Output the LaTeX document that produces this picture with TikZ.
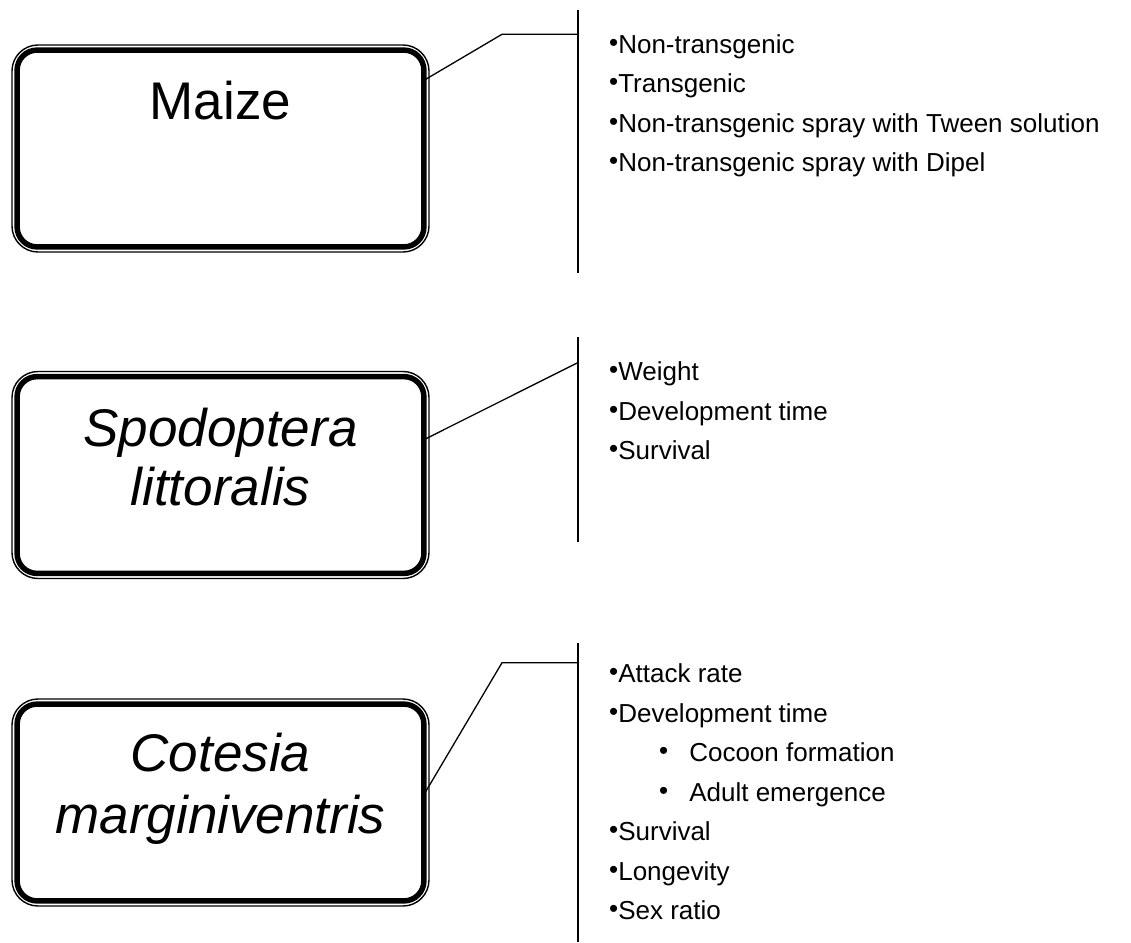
\documentclass[tikz,border=0pt]{standalone}
\usepackage{fontspec}
\setmainfont{Liberation Sans}
\newcommand\mybul{\raisebox{2pt}{•}}
\begin{document}
\begin{tikzpicture}[x=1pt,y=-1pt,
  boxo/.style={draw,line width=1.4pt,rounded corners=26pt,minimum width=417pt,minimum height=207pt,inner sep=0pt},
  boxi/.style={line width=5.5pt,rounded corners=20pt},
  big/.style={font=\fontsize{53}{60}\selectfont,inner sep=0pt,anchor=base},
  bigi/.style={inner sep=0pt,anchor=base,font=\fontsize{53}{60}\selectfont\itshape},
  item/.style={font=\fontsize{26}{30}\selectfont,inner sep=0pt,anchor=base west},
  vline/.style={line width=1.8pt},
  conn/.style={line width=1.3pt}]
\useasboundingbox (0,0) rectangle (1131,942);

% boxes
\node[boxo] (maize) at (220.5,148.5) {};
\draw[boxi] ([xshift=5.8pt,yshift=-5.8pt]maize.north west) rectangle ([xshift=-5.8pt,yshift=5.8pt]maize.south east);
\node[boxo] (spodo) at (220.5,475) {};
\draw[boxi] ([xshift=5.8pt,yshift=-5.8pt]spodo.north west) rectangle ([xshift=-5.8pt,yshift=5.8pt]spodo.south east);
\node[boxo] (cotes) at (220.5,802.5) {};
\draw[boxi] ([xshift=5.8pt,yshift=-5.8pt]cotes.north west) rectangle ([xshift=-5.8pt,yshift=5.8pt]cotes.south east);

% box texts
\node[big] (maizet) at (220.5,119) {Maize};
\node[bigi] (spo1) at (220.5,446.7) {Spodoptera};
\node[bigi] (spo2) at (220.5,505) {littoralis};
\node[bigi] (cot1) at (220.5,771.7) {Cotesia};
\node[bigi] (cot2) at (220.5,833.3) {marginiventris};

% vertical lines
\coordinate (v1t) at (577.7,10);  \coordinate (v1b) at (577.7,272.7);
\coordinate (v2t) at (577.7,337.3); \coordinate (v2b) at (577.7,541.7);
\coordinate (v3t) at (577.7,643);  \coordinate (v3b) at (577.7,942);
\draw[vline] (v1t) -- (v1b);
\draw[vline] (v2t) -- (v2b);
\draw[vline] (v3t) -- (v3b);

% connectors
\coordinate (k1) at (502,34.3);  \coordinate (j1) at (577.7,34.3);
\coordinate (j2) at (577.7,362.7);
\coordinate (k3) at (502,662.7); \coordinate (j3) at (577.7,662.7);
\draw[conn] ([xshift=-4pt,yshift=-35pt]maize.north east) -- (k1) -- (j1);
\draw[conn] ([xshift=-4pt,yshift=-68pt]spodo.north east) -- (j2);
\draw[conn] ([xshift=-5pt,yshift=-95pt]cotes.north east) -- (k3) -- (j3);

% lists
\node[item] (m1) at (609,53.3) {\mybul Non-transgenic};
\node[item] (m2) at (609,92.8) {\mybul Transgenic};
\node[item] (m3) at (609,132.3) {\mybul Non-transgenic spray with Tween solution};
\node[item] (m4) at (609,171.8) {\mybul Non-transgenic spray with Dipel};

\node[item] (s1) at (609,380.5) {\mybul Weight};
\node[item] (s2) at (609,420) {\mybul Development time};
\node[item] (s3) at (609,459.5) {\mybul Survival};

\node[item] (c1) at (609,682.7) {\mybul Attack rate};
\node[item] (c2) at (609,722.2) {\mybul Development time};
\node[item] (c3) at (659,761.7) {\mybul\hspace{21pt}Cocoon formation};
\node[item] (c4) at (659,801.2) {\mybul\hspace{21pt}Adult emergence};
\node[item] (c5) at (609,840.7) {\mybul Survival};
\node[item] (c6) at (609,880.2) {\mybul Longevity};
\node[item] (c7) at (609,919.7) {\mybul Sex ratio};
\end{tikzpicture}
\end{document}
